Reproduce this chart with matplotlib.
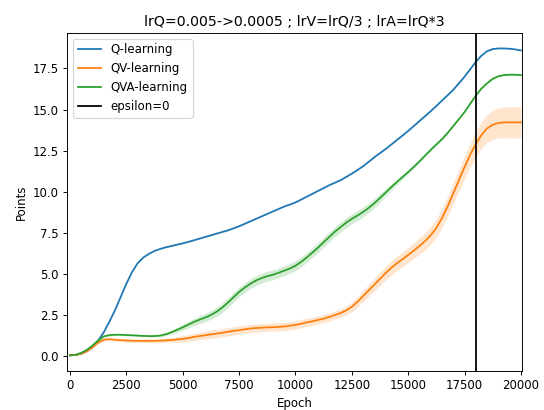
#!/usr/bin/env python3

# Import Packages
import numpy as np # NUMPY array
import matplotlib
matplotlib.use('Agg')
import matplotlib.pyplot as plt # Matplotlib plot

# Training curves sampled every 250 epochs
epochs = np.arange(0, 20001, 250)

q_mean = [0.05, 0.07, 0.15, 0.3, 0.55, 0.95, 1.45, 2.1, 2.8, 3.6,
          4.4, 5.1, 5.65, 6.0, 6.22, 6.4, 6.52, 6.62, 6.7, 6.78,
          6.86, 6.95, 7.05, 7.15, 7.25, 7.35, 7.45, 7.55, 7.65, 7.77,
          7.9, 8.05, 8.2, 8.35, 8.5, 8.65, 8.8, 8.95, 9.1, 9.22,
          9.35, 9.52, 9.7, 9.87, 10.05, 10.22, 10.4, 10.55, 10.7, 10.9,
          11.1, 11.32, 11.55, 11.82, 12.1, 12.35, 12.6, 12.87, 13.15, 13.42,
          13.7, 14.0, 14.3, 14.6, 14.9, 15.22, 15.55, 15.87, 16.2, 16.6,
          17.0, 17.45, 17.9, 18.28, 18.55, 18.68, 18.72, 18.72, 18.7, 18.66,
          18.6]
q_std = [0.02] * 81

qv_mean = [0.05, 0.07, 0.15, 0.3, 0.55, 0.82, 1.0, 1.03, 1.0, 0.97,
           0.95, 0.94, 0.93, 0.93, 0.93, 0.93, 0.94, 0.96, 0.98, 1.01,
           1.05, 1.1, 1.17, 1.22, 1.27, 1.32, 1.37, 1.42, 1.48, 1.53,
           1.58, 1.63, 1.68, 1.71, 1.73, 1.75, 1.76, 1.78, 1.8, 1.85,
           1.9, 1.97, 2.05, 2.12, 2.2, 2.28, 2.38, 2.5, 2.62, 2.78,
           3.0, 3.3, 3.65, 4.0, 4.35, 4.7, 5.05, 5.37, 5.65, 5.9,
           6.15, 6.42, 6.7, 7.0, 7.35, 7.8, 8.4, 9.1, 9.9, 10.7,
           11.5, 12.25, 12.9, 13.45, 13.85, 14.08, 14.18, 14.22, 14.22, 14.22,
           14.22]
qv_std = ([0.02, 0.03, 0.05, 0.06, 0.08, 0.08, 0.08, 0.08, 0.08]
          + [0.09, 0.1, 0.1, 0.1, 0.1, 0.1, 0.11, 0.12, 0.13, 0.15, 0.17, 0.2]
          + [0.21, 0.22, 0.23, 0.24] + [0.25] * 24
          + [0.28, 0.3, 0.32, 0.34, 0.36, 0.38, 0.4, 0.41, 0.42, 0.44, 0.45, 0.46]
          + [0.48, 0.5, 0.52, 0.54, 0.56, 0.58, 0.61, 0.64, 0.67, 0.7]
          + [0.73, 0.76, 0.8, 0.85, 0.88, 0.91, 0.93, 0.95, 0.95, 0.95])

qva_mean = [0.05, 0.08, 0.2, 0.38, 0.65, 0.95, 1.2, 1.28, 1.3, 1.3,
            1.28, 1.27, 1.25, 1.23, 1.22, 1.22, 1.25, 1.33, 1.45, 1.6,
            1.75, 1.92, 2.08, 2.22, 2.35, 2.5, 2.7, 2.95, 3.25, 3.58,
            3.9, 4.17, 4.4, 4.6, 4.75, 4.86, 4.95, 5.07, 5.2, 5.33,
            5.5, 5.73, 6.0, 6.3, 6.6, 6.93, 7.25, 7.57, 7.85, 8.12,
            8.35, 8.55, 8.77, 9.02, 9.3, 9.62, 9.95, 10.28, 10.6, 10.9,
            11.2, 11.52, 11.85, 12.2, 12.55, 12.88, 13.2, 13.58, 14.0, 14.42,
            14.85, 15.35, 15.85, 16.28, 16.6, 16.87, 17.03, 17.1, 17.12, 17.12,
            17.1]
qva_std = ([0.02, 0.02, 0.03, 0.03, 0.04] + [0.05] * 10 + [0.06, 0.08]
           + [0.1, 0.12, 0.15, 0.18, 0.2, 0.22, 0.24, 0.25, 0.26, 0.28, 0.29, 0.3]
           + [0.3] * 24
           + [0.29, 0.28, 0.26, 0.22, 0.19, 0.16, 0.13, 0.1]
           + [0.09, 0.08, 0.07, 0.06] + [0.05] * 16)

series = [('Q-learning', q_mean, q_std, 'C0'),
          ('QV-learning', qv_mean, qv_std, 'C1'),
          ('QVA-learning', qva_mean, qva_std, 'C2')]
epsilon_zero = 18000

# Generate plot
fig = plt.figure(figsize=(544 / 85, 410 / 85), dpi=85)
ax = fig.add_axes([0.1232, 0.0951, 0.8364, 0.8251])
for label, mean, std, color in series:
    mean = np.array(mean)
    std = np.array(std)
    ax.plot(epochs, mean, color=color, lw=1.5, label=label)
    ax.fill_between(epochs, mean - std, mean + std, color=color, alpha=0.2, lw=0)
ax.axvline(epsilon_zero, color='black', lw=1.5, label='epsilon=0')
ax.set_xlim(-130, 20050)
ax.set_title('lrQ=0.005->0.0005 ; lrV=lrQ/3 ; lrA=lrQ*3')
ax.set_xlabel('Epoch')
ax.set_ylabel('Points')
ax.legend(loc='upper left')
fig.savefig('out.png', dpi=85)
